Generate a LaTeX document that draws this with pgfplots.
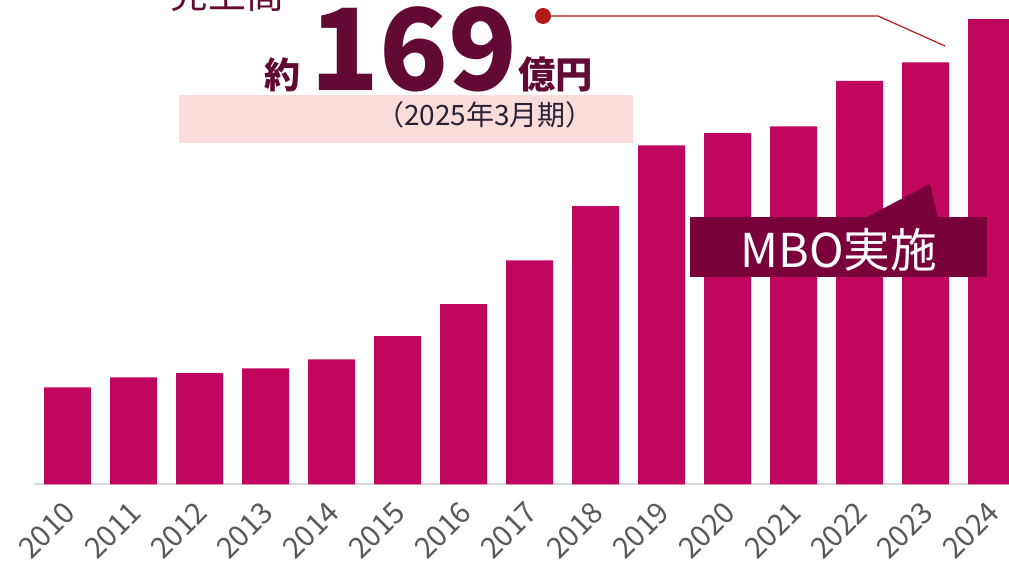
\documentclass[border=0pt]{standalone}
\usepackage{pgfplots}
\pgfplotsset{compat=1.18}
\usepackage{pgfplotstable}
\usepackage{fontspec}
\newfontfamily\jp{Noto Sans CJK JP}
\definecolor{barc}{HTML}{C1065F}
\definecolor{dark}{HTML}{620A33}
\definecolor{mbo}{HTML}{7A003C}
\definecolor{pinkbg}{HTML}{FADCDB}
\definecolor{redl}{HTML}{B5191C}
\definecolor{tickc}{HTML}{595959}
\definecolor{axisl}{HTML}{D9D9D9}
\definecolor{paren}{HTML}{2B2137}
\pgfplotstableread{
x y
0 35.3
1 38.9
2 40.4
3 42.2
4 45.4
5 53.9
6 65.5
7 81.4
8 101.1
9 123.1
10 127.6
11 130.0
12 146.5
13 153.3
14 169.0
}\sales
\begin{document}
\begin{tikzpicture}[x=0.75pt,y=0.75pt]
\useasboundingbox (0,0) rectangle (1009,563);
\clip (0,0) rectangle (1009,563);
\begin{axis}[
  at={(25.38pt,58.875pt)}, anchor=south west,
  scale only axis, width=752.9pt, height=349.1pt,
  xmin=-0.51, xmax=14.7, ymin=0, ymax=169,
  axis x line*=bottom, hide y axis,
  x axis line style={draw=axisl, line width=1.5pt},
  xtick={0,...,14},
  xticklabels={2010,2011,2012,2013,2014,2015,2016,2017,2018,2019,2020,2021,2022,2023,2024},
  major tick length=0pt,
  xticklabel style={xshift=-4pt, yshift=-11pt, rotate=45, anchor=north east, inner sep=0pt, font=\jp\fontsize{22}{24}\selectfont, text=tickc},
  ybar, bar width=0.712,
  clip=false,
]
\addplot[fill=barc, draw=none] table[x=x,y=y]{\sales};
\end{axis}
% title block
\fill[pinkbg] (179,420) rectangle (633,468);
\node[anchor=base, inner sep=0pt, text=paren, font=\jp\fontsize{21}{23}\selectfont] at (485,437.5) {（2025年3月期）};
\node[anchor=base west, inner sep=0pt, text=dark, font=\jp\fontsize{28.5}{30}\selectfont] at (170,554.5) {売上高};
\node[anchor=base west, inner sep=0pt, text=dark, font=\jp\bfseries\fontsize{27}{29}\selectfont] at (264,474.5) {約};
\node[anchor=base west, inner sep=0pt, text=dark, font=\jp\bfseries\fontsize{85}{90}\selectfont] at (310,472) {169};
\node[anchor=base west, inner sep=0pt, text=dark, font=\jp\bfseries\fontsize{28}{30}\selectfont] at (518,474.5) {億円};
% red leader
\draw[redl, line width=0.9pt] (543,547) -- (878,547) -- (945,517);
\fill[redl] (543,547) circle (8);
% MBO callout
\fill[mbo] (690,286) rectangle (987,346);
\fill[mbo] (865,345) -- (930,379) -- (938,345) -- cycle;
\node[inner sep=0pt, text=white, font=\jp\fontsize{35}{37}\selectfont] at (839,313.5) {MBO実施};
\end{tikzpicture}
\end{document}
